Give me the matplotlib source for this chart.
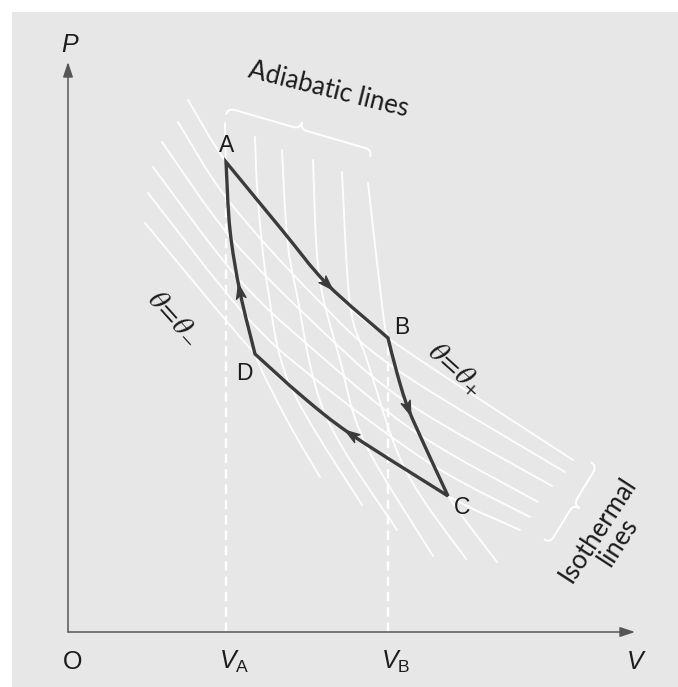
import numpy as np
import matplotlib
matplotlib.use("Agg")
import matplotlib.pyplot as plt
from matplotlib.path import Path
from matplotlib.patches import PathPatch, Polygon, Rectangle

# ---------------- data (V, P in arbitrary units) -------------
vertex_names = ["A", "B", "C", "D"]
vertex_V = [15.8, 32.0, 38.0, 18.7]
vertex_P = [47.0, 29.4, 13.6, 27.8]

# cycle edges, in the direction of travel (A->B->C->D->A)
edge_AB_V = [15.8, 21.4, 25.9, 32.0]
edge_AB_P = [47.0, 40.2, 34.8, 29.4]
edge_BC_V = [32.0, 32.9, 34.0, 36.0, 38.0]
edge_BC_P = [29.4, 25.9, 22.4, 17.9, 13.6]
edge_CD_V = [38.0, 28.4, 23.5, 18.7]
edge_CD_P = [13.6, 19.7, 23.5, 27.8]
edge_DA_V = [18.7, 17.2, 16.2, 15.8]
edge_DA_P = [27.8, 34.0, 40.2, 47.0]
arrow_index = [2, 2, 1, 1]

# isothermal lines (theta_+ ... theta_-)
iso1_V = [12.0, 15.8, 21.4, 25.9, 32.0, 50.5]
iso1_P = [53.2, 47.0, 40.2, 34.8, 29.4, 17.2]
iso2_V = [11.0, 16.0, 24.7, 32.8, 49.7]
iso2_P = [51.0, 43.2, 33.5, 26.3, 16.0]
iso3_V = [9.4, 16.3, 24.7, 33.7, 48.4]
iso3_P = [49.0, 39.4, 30.8, 23.1, 14.6]
iso4_V = [8.5, 16.9, 24.7, 34.9, 47.0]
iso4_P = [46.5, 35.5, 28.1, 19.9, 13.0]
iso5_V = [8.0, 17.7, 24.7, 36.3, 46.2]
iso5_P = [43.9, 31.7, 25.3, 16.8, 11.5]
iso6_V = [7.7, 18.7, 23.5, 28.4, 38.0, 45.2]
iso6_P = [40.9, 27.8, 23.5, 19.7, 13.6, 10.2]

# adiabatic lines
ad1_V = [15.7, 15.8, 16.2, 17.2, 18.7, 21.9, 25.2]
ad1_P = [50.9, 47.0, 40.2, 34.0, 27.8, 21.2, 15.5]
ad2_V = [18.7, 19.0, 20.0, 22.2, 29.4]
ad2_P = [49.5, 43.2, 34.2, 24.7, 12.7]
ad3_V = [21.4, 21.9, 22.8, 25.7, 32.9]
ad3_P = [48.2, 39.6, 34.2, 21.8, 10.2]
ad4_V = [24.5, 25.1, 27.2, 29.7, 36.5]
ad4_P = [47.2, 35.8, 27.2, 18.9, 7.6]
ad5_V = [27.4, 28.2, 29.9, 33.7, 39.8]
ad5_P = [46.0, 32.8, 27.2, 16.3, 7.3]
ad6_V = [30.0, 31.5, 32.0, 32.9, 34.0, 36.0, 38.0, 42.9]
ad6_P = [44.9, 31.9, 29.4, 25.9, 22.4, 17.9, 13.6, 7.0]

V_A = 15.8
V_B = 32.0
P_A = 47.0
P_B = 29.4
V_max = 56.7
P_max = 57.0

# ---------------- helpers -------------
def smooth_segments(xs, ys):
    pts = np.column_stack([xs, ys]).astype(float)
    n = len(pts)
    verts, codes = [], []
    for i in range(n - 1):
        p0 = pts[i - 1] if i > 0 else pts[i]
        p1, p2 = pts[i], pts[i + 1]
        p3 = pts[i + 2] if i + 2 < n else pts[i + 1]
        c1 = p1 + (p2 - p0) / 6.0
        c2 = p2 - (p3 - p1) / 6.0
        verts += [c1, c2, p2]
        codes += [Path.CURVE4] * 3
    return pts[0], verts, codes


def smooth_path(xs, ys):
    start, verts, codes = smooth_segments(xs, ys)
    return Path([start] + verts, [Path.MOVETO] + codes)


def brace(ax, p0, p1, h, **kw):
    p0 = np.asarray(p0, float)
    p1 = np.asarray(p1, float)
    L = np.linalg.norm(p1 - p0)
    u = (p1 - p0) / L
    n = np.array([-u[1], u[0]])
    def P(s, t):
        return p0 + u * s + n * t
    verts = [P(0, -h), P(0, 0), P(h, 0), P(L / 2 - h, 0), P(L / 2, 0), P(L / 2, h),
             P(L / 2, 0), P(L / 2 + h, 0), P(L - h, 0), P(L, 0), P(L, -h)]
    codes = [Path.MOVETO, Path.CURVE3, Path.CURVE3, Path.LINETO, Path.CURVE3, Path.CURVE3,
             Path.CURVE3, Path.CURVE3, Path.LINETO, Path.CURVE3, Path.CURVE3]
    ax.add_patch(PathPatch(Path(verts, codes), fill=False, **kw))


# ---------------- figure -------------
plt.rcParams["mathtext.fontset"] = "custom"
plt.rcParams["mathtext.rm"] = "Liberation Sans"
plt.rcParams["mathtext.it"] = "Liberation Sans:italic"

fig = plt.figure(figsize=(6.78, 6.87), dpi=100)
fig.patch.set_facecolor("white")
ax = fig.add_axes([0, 0, 1, 1])
ax.set_axis_off()
ax.patch.set_visible(False)
ax.set_xlim(-6.8, 61.0)
ax.set_ylim(-5.5, 63.2)
ax.add_patch(Rectangle((12 / 678, 0), 1, (687 - 12) / 687, transform=fig.transFigure,
                       facecolor="#e7e7e7", edgecolor="none", zorder=0))

white_kw = dict(edgecolor="white", lw=1.35, capstyle="round", alpha=0.95, zorder=2)
for xs, ys in [(iso1_V, iso1_P), (iso2_V, iso2_P), (iso3_V, iso3_P), (iso4_V, iso4_P),
               (iso5_V, iso5_P), (iso6_V, iso6_P),
               (ad1_V, ad1_P), (ad2_V, ad2_P), (ad3_V, ad3_P), (ad4_V, ad4_P),
               (ad5_V, ad5_P), (ad6_V, ad6_P)]:
    ax.add_patch(PathPatch(smooth_path(xs, ys), fill=False, **white_kw))

# dashed guides
ax.plot([V_A, V_A], [0, P_A], color="white", lw=1.7, dashes=(4, 2.5), zorder=2)
ax.plot([V_B, V_B], [0, P_B], color="white", lw=1.7, dashes=(4, 2.5), zorder=2)

# braces
brace(ax, (16.0, 52.4), (30.4, 48.2), 0.7, edgecolor="white", lw=1.4, zorder=2)
brace(ax, (52.9, 16.6), (48.2, 8.9), 0.7, edgecolor="white", lw=1.4, zorder=2)

# cycle
cyc_color = "#3b3b3b"
edges = [(edge_AB_V, edge_AB_P), (edge_BC_V, edge_BC_P), (edge_CD_V, edge_CD_P), (edge_DA_V, edge_DA_P)]
all_verts, all_codes = [], []
for k, (xs, ys) in enumerate(edges):
    start, verts, codes = smooth_segments(xs, ys)
    if k == 0:
        all_verts.append(start)
        all_codes.append(Path.MOVETO)
    all_verts += verts
    all_codes += codes
all_verts.append(all_verts[0])
all_codes.append(Path.CLOSEPOLY)
ax.add_patch(PathPatch(Path(all_verts, all_codes), fill=False, edgecolor=cyc_color, lw=2.4,
                       joinstyle="miter", zorder=4))

for (xs, ys), i in zip(edges, arrow_index):
    pts = np.column_stack([xs, ys])
    m = pts[i]
    d = pts[i + 1] - pts[i - 1]
    d = d / np.linalg.norm(d)
    nrm = np.array([-d[1], d[0]])
    Lh, W = 1.5, 0.5
    tip = m + d * Lh * 0.55
    back = m - d * Lh * 0.45
    notch = m - d * Lh * 0.2
    ax.add_patch(Polygon([tip, back + nrm * W, notch, back - nrm * W], closed=True,
                         facecolor=cyc_color, edgecolor=cyc_color, lw=0.8, zorder=5))

# axes with arrows
axis_color = "#555555"
arrow_kw = dict(arrowstyle="-|>,head_length=0.9,head_width=0.3", color=axis_color, lw=1.1,
                shrinkA=0, shrinkB=0, mutation_scale=10)
ax.annotate("", xy=(0, P_max), xytext=(0, 0), arrowprops=arrow_kw, zorder=3)
ax.annotate("", xy=(V_max, 0), xytext=(0, 0), arrowprops=arrow_kw, zorder=3)

txt = "#1c1c1c"
# vertex labels
label_offsets = [(0.1, 1.6), (1.4, 1.0), (1.4, -1.2), (-1.1, -1.9)]
for name, v, p, (dv, dp) in zip(vertex_names, vertex_V, vertex_P, label_offsets):
    ax.text(v + dv, p + dp, name, fontsize=16.5, family="Liberation Sans", color=txt,
            ha="center", va="center", zorder=6)

# axis labels
ax.text(0.5, -3.0, "O", fontsize=18, family="Liberation Sans", color=txt, ha="center", va="center")
ax.text(V_A + 0.8, -3.0, r"$V_{\mathrm{A}}$", fontsize=18, color=txt, ha="center", va="center")
ax.text(V_B + 0.8, -3.0, r"$V_{\mathrm{B}}$", fontsize=18, color=txt, ha="center", va="center")
ax.text(V_max + 0.1, -3.0, r"$V$", fontsize=18, color=txt, ha="center", va="center")
ax.text(0.2, 58.7, r"$P$", fontsize=18, color=txt, ha="center", va="center")

# theta labels
ax.text(10.8, 31.6, r"$\theta\!=\!\theta_{-}$", fontsize=21, math_fontfamily="stix", color=txt,
        rotation=-48, ha="center", va="center", rotation_mode="anchor")
ax.text(38.8, 26.4, r"$\theta\!=\!\theta_{+}$", fontsize=21, math_fontfamily="stix", color=txt,
        rotation=-42, ha="center", va="center", rotation_mode="anchor")

# family labels
ax.text(26.0, 54.2, "Adiabatic lines", fontsize=18.5, family="Lato", color=txt,
        rotation=-14, ha="center", va="center", rotation_mode="anchor")
ax.text(54.0, 9.6, "Isothermal\nlines", fontsize=18.5, family="Lato", color=txt,
        rotation=57, ha="center", va="center", rotation_mode="anchor", linespacing=0.95,
        multialignment="center")

fig.savefig("out.png", dpi=100, facecolor=fig.get_facecolor())
